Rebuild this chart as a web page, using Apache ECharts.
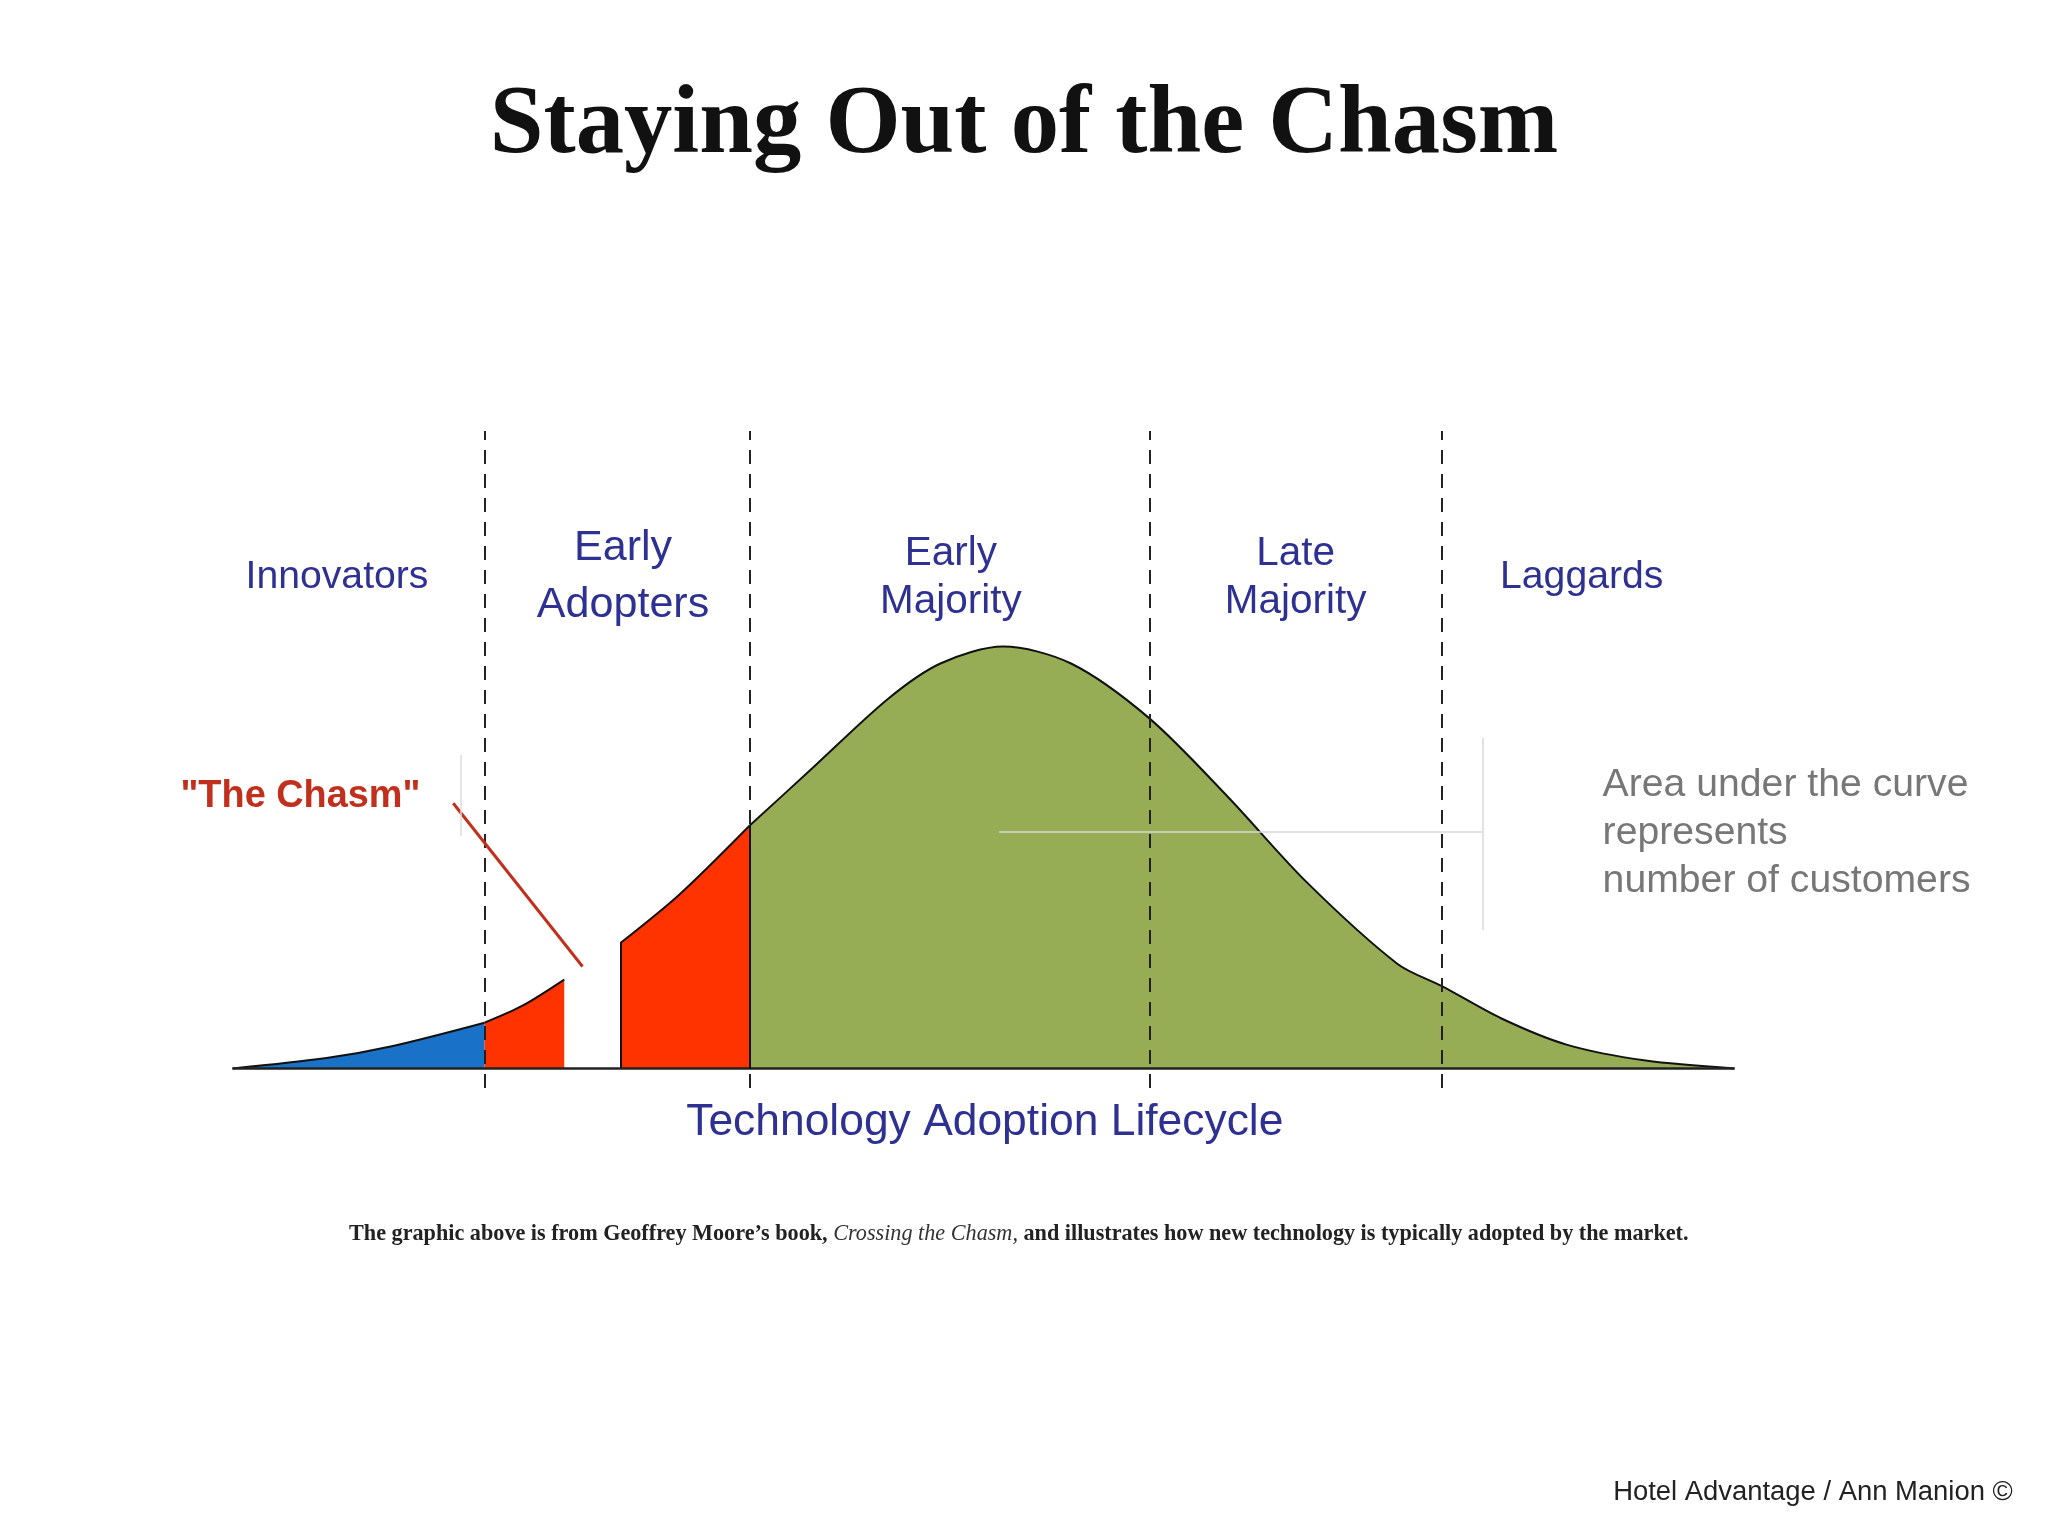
<!DOCTYPE html>
<html><head><meta charset="utf-8">
<script src="https://cdn.jsdelivr.net/npm/echarts@6/dist/echarts.min.js"></script>
<style>html,body{margin:0;background:#fff}#c{width:2048px;height:1536px}</style>
</head><body><div id="c"></div>
<script>
// curve heights above baseline (x in picture px, y = height)
const innovators = [[178,0],[250,8],[300,17],[371,35]];
const chasmLeft = [[371,35],[400,48],[432,68]];
const earlyRight = [[475,96],[520,133],[574,186]];
const mainCurve = [[574,186],[620,228],[680,283],[720,310],[768,323],[820,310],[880,268],[940,208],[1000,143],[1070,80],[1104,63],[1150,38],[1200,18],[1260,6],[1328,0]];
const dividers = [371, 574, 880, 1104];

const s = 2048 / 1568;
const chart = echarts.init(document.getElementById('c'));
const navy = '#2e3192';
const font = 'Liberation Sans, Arial, sans-serif';
function txt(x, y, t, size, color, extra) {
  return Object.assign({ type: 'text', x: x * s, y: y * s, style: Object.assign({ text: t, font: `${size * s}px ${font}`, fill: color, textAlign: 'center', textVerticalAlign: 'middle' }, extra || {}) });
}
function area(data, color, name) {
  return { type: 'line', name, data, symbol: 'none', smooth: 0.3, lineStyle: { color: '#111', width: 2 }, areaStyle: { color, opacity: 1 }, z: 3 };
}
chart.setOption({
  animation: false,
  grid: { left: 178 * s, right: 2048 - 1328 * s, top: 330 * s, bottom: (1176 - 833) * s },
  xAxis: { type: 'value', min: 178, max: 1328, show: false },
  yAxis: { type: 'value', min: -15, max: 488, show: false },
  series: [
    area(innovators, '#1a72c8', 'Innovators'),
    area(chasmLeft, '#ff3300', 'Early Adopters A'),
    Object.assign(area(earlyRight, '#ff3300', 'Early Adopters B'), {
      markLine: { silent: true, symbol: 'none', lineStyle: { color: '#111', width: 2, type: 'solid' }, label: { show: false },
        data: [[{ coord: [475, 0] }, { coord: [475, 96] }]] }
    }),
    Object.assign(area(mainCurve, '#97ad55', 'Majority'), {
      markLine: { silent: true, symbol: 'none', label: { show: false }, z: 5,
        lineStyle: { color: '#222', width: 2, type: [14, 10] },
        data: dividers.map(d => [{ coord: [d, -15] }, { coord: [d, 488] }]).concat([
          [{ coord: [178, 0], lineStyle: { type: 'solid', width: 2.5, color: '#222' } }, { coord: [1328, 0] }],
          [{ coord: [574, 0], lineStyle: { type: 'solid', width: 2, color: '#111' } }, { coord: [574, 186] }],
          [{ coord: [765, 181], lineStyle: { type: 'solid', width: 1.5, color: '#d8d8d8' } }, { coord: [1135, 181] }],
          [{ coord: [1135, 106], lineStyle: { type: 'solid', width: 1.5, color: '#d8d8d8' } }, { coord: [1135, 253] }],
          [{ coord: [347, 203], lineStyle: { type: 'solid', width: 3, color: '#c0301c' } }, { coord: [446, 78] }],
          [{ coord: [353, 240], lineStyle: { type: 'solid', width: 1.5, color: '#ddd' } }, { coord: [353, 178] }]
        ])
      }
    })
  ],
  graphic: [
    { type: 'text', x: 784 * s, y: 97 * s, style: { text: 'Staying Out of the Chasm', font: `bold ${74 * s}px "Liberation Serif", "DejaVu Serif", serif`, fill: '#111', textAlign: 'center', textVerticalAlign: 'middle' } },
    txt(258, 442, 'Innovators', 30, navy),
    txt(477, 420, 'Early', 33, navy), txt(477, 463, 'Adopters', 33, navy),
    txt(728, 424, 'Early', 31, navy), txt(728, 461, 'Majority', 31, navy),
    txt(992, 424, 'Late', 31, navy), txt(992, 461, 'Majority', 31, navy),
    txt(1211, 442, 'Laggards', 30, navy),
    txt(230, 610, '"The Chasm"', 29, '#c0301c', { font: `bold ${29 * s}px ${font}` }),
    txt(1227, 601, 'Area under the curve', 30, '#777', { textAlign: 'left' }),
    txt(1227, 638, 'represents', 30, '#777', { textAlign: 'left' }),
    txt(1227, 675, 'number of customers', 30, '#777', { textAlign: 'left' }),
    txt(754, 860, 'Technology Adoption Lifecycle', 34, navy),
    { type: 'text', x: 780 * s, y: 945 * s, style: { rich: { b: { font: `bold ${17 * s}px "Liberation Serif", serif`, fill: '#222' }, i: { font: `italic ${17 * s}px "Liberation Serif", serif`, fill: '#333' } },
      text: '{b|The graphic above is from Geoffrey Moore\u2019s book, }{i|Crossing the Chasm,}{b| and illustrates how new technology is typically adopted by the market.}', textAlign: 'center', textVerticalAlign: 'middle' } },
    txt(1541, 1143, 'Hotel Advantage / Ann Manion \u00a9', 21, '#222', { textAlign: 'right' })
  ]
});
</script></body></html>
